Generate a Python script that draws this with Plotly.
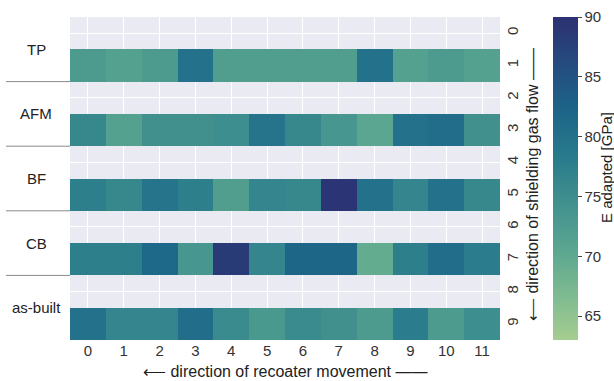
import plotly.graph_objects as go

columns = list(range(12))
rows = list(range(10))
groups = ["TP", "AFM", "BF", "CB", "as-built"]

tp = [72.5, 71.5, 72.5, 80.0, 72.0, 72.0, 72.0, 72.0, 80.0, 71.5, 72.5, 71.5]
afm = [76.0, 71.5, 74.5, 74.5, 75.0, 79.5, 76.0, 73.5, 70.5, 80.0, 80.5, 74.5]
bf = [77.5, 76.0, 79.5, 77.5, 72.0, 76.5, 76.0, 89.5, 80.0, 76.5, 80.0, 76.0]
cb = [77.5, 77.5, 81.5, 73.5, 88.5, 76.5, 82.0, 82.0, 69.5, 77.5, 80.5, 78.0]
as_built = [80.0, 76.5, 76.5, 80.5, 75.5, 73.0, 75.5, 74.5, 72.5, 78.0, 72.5, 75.0]

empty = [None] * 12
z = [empty, tp, empty, afm, empty, bf, empty, cb, empty, as_built]

crest = [
    [0.0, "#a5cd90"],
    [0.143, "#7dba91"],
    [0.286, "#59a590"],
    [0.429, "#40908e"],
    [0.571, "#287a8c"],
    [0.714, "#1c6488"],
    [0.857, "#254b7f"],
    [1.0, "#2c3172"],
]

W, H = 614, 381
ml, mr, mt, mb = 70, 114, 17, 41
pw, ph = W - ml - mr, H - mt - mb

def px_x(x):
    return (x - ml) / pw

def px_y(y):
    return (H - mb - y) / ph

fig = go.Figure(go.Heatmap(
    z=z, x=columns, y=rows,
    colorscale=crest, zmin=63, zmax=90,
    hoverongaps=False,
    colorbar=dict(
        x=553 / W, xanchor="left", xref="container", xpad=0, ypad=0,
        y=0.5, yanchor="middle", len=1.0, lenmode="fraction",
        thickness=25, outlinewidth=0,
        tickvals=[65, 70, 75, 80, 85, 90],
        ticks="outside", ticklen=4, tickcolor="#444", tickwidth=1,
        tickfont=dict(family="Liberation Sans", size=15, color="#333"),
    ),
))

fig.update_xaxes(
    tickvals=columns, ticktext=[str(c) for c in columns],
    range=[-0.5, 11.5], showgrid=True, gridcolor="white", gridwidth=1,
    zeroline=False, showline=False, ticks="",
    tickfont=dict(family="Liberation Sans", size=15, color="#333"),
)
fig.update_yaxes(
    tickvals=rows, ticktext=[str(r) for r in rows],
    range=[9.5, -0.5], side="right", tickangle=-90,
    showgrid=True, gridcolor="white", gridwidth=1,
    zeroline=False, showline=False, ticks="",
    ticklabelstandoff=2,
    tickfont=dict(family="Liberation Sans", size=15, color="#333"),
)

annotations = []
for i, g in enumerate(groups):
    annotations.append(dict(
        text=g, x=px_x(36), y=2 * i + 0.5, xref="paper", yref="y",
        showarrow=False, xanchor="center", yanchor="middle",
        font=dict(family="Liberation Sans", size=15, color="#222"),
    ))
annotations.append(dict(
    text="⟵ direction of recoater movement ——",
    x=0.5, y=px_y(371), xref="paper", yref="paper",
    showarrow=False, xanchor="center", yanchor="middle",
    font=dict(family="Liberation Sans", size=16, color="#222"),
))
annotations.append(dict(
    text="⟵ direction of shielding gas flow ——",
    x=px_x(532), y=px_y(185), xref="paper", yref="paper",
    showarrow=False, xanchor="center", yanchor="middle", textangle=-90,
    font=dict(family="Liberation Sans", size=16, color="#222"),
))
annotations.append(dict(
    text="E adapted [GPa]",
    x=px_x(606), y=px_y(168), xref="paper", yref="paper",
    showarrow=False, xanchor="center", yanchor="middle", textangle=-90,
    font=dict(family="Liberation Sans", size=15, color="#222"),
))

shapes = []
for b in [1.5, 3.5, 5.5, 7.5]:
    shapes.append(dict(
        type="line", xref="paper", yref="y",
        x0=px_x(6), x1=0, y0=b, y1=b,
        line=dict(color="#8a8a8a", width=1),
    ))

fig.update_layout(
    width=W, height=H,
    margin=dict(l=ml, r=mr, t=mt, b=mb, autoexpand=False),
    plot_bgcolor="#EAEAF2", paper_bgcolor="white",
    annotations=annotations, shapes=shapes,
    showlegend=False,
)

fig.write_html("out.html", config={"displayModeBar": False},
               post_script="document.body.style.margin='0';")
